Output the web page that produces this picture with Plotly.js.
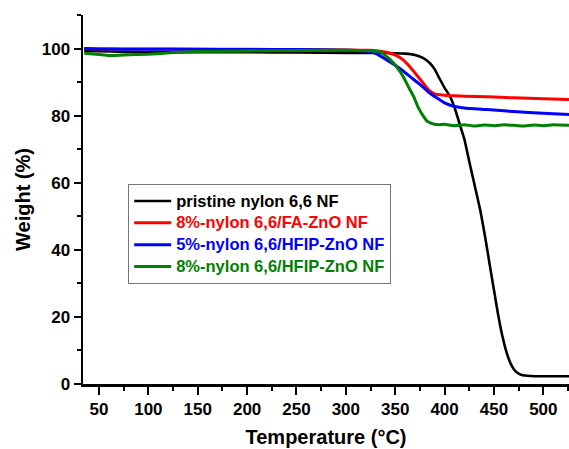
<!DOCTYPE html>
<html>
<head>
<meta charset="utf-8">
<script src="https://cdn.plot.ly/plotly-3.0.1.min.js"></script>
<style>html,body{margin:0;padding:0;background:#fff;}#chart{width:569px;height:449px;}</style>
</head>
<body>
<div id="chart"></div>
<script>
const seriesNames = ["pristine nylon 6,6 NF", "8%-nylon 6,6/FA-ZnO NF", "5%-nylon 6,6/HFIP-ZnO NF", "8%-nylon 6,6/HFIP-ZnO NF"];
const seriesColors = ["#000000", "#ff0000", "#0000ff", "#008000"];

const tempPristine = [35,50,75,100,150,200,250,300,330,350,360,370,378,385,390,395,400,405,410,416,420,426,431,436,441,446,450,454,458,463,467,470,473,478,487,500,527];
const wPristine    = [99.3,99.2,99.0,98.9,98.9,98.9,98.8,98.7,98.7,98.6,98.5,98.1,97.2,95.7,93.8,91.0,88.3,86.0,82.5,76.8,73.0,65.0,58.5,52.0,44.0,35.0,28.0,21.0,15.0,9.2,6.0,4.5,3.5,2.7,2.4,2.3,2.3];

const tempFA = [35,50,75,100,150,200,250,300,325,335,345,352,358,365,372,378,384,390,395,402,410,420,443,470,500,527];
const wFA    = [100,99.9,99.9,99.9,99.8,99.8,99.7,99.6,99.5,99.2,98.6,97.8,96.6,94.5,92.0,89.8,87.6,86.5,86.2,86.0,85.9,85.8,85.6,85.3,85.0,84.8];

const tempHFIP5 = [35,50,75,100,150,200,250,300,320,330,341,350,358,366,375,383,392,400,409,420,443,470,500,527];
const wHFIP5    = [100,99.9,99.8,99.8,99.8,99.7,99.7,99.5,99.3,98.6,96.7,95.0,93.3,91.4,89.3,87.2,85.3,83.8,82.8,82.3,81.8,81.2,80.7,80.3];

const tempHFIP8 = [35,50,60,75,100,125,150,200,250,300,320,335,345,352,358,363,368.5,373,378.6,383,388.7,395,400,410,420,430,440,450,460,470,480,490,500,510,527];
const wHFIP8    = [98.6,98.2,97.9,98.1,98.3,98.8,99.1,99.3,99.4,99.5,99.4,99.0,96.7,94.3,91.7,88.8,85.8,82.6,79.8,78.2,77.5,77.3,77.4,77.0,77.3,76.9,77.2,77.0,77.3,77.1,76.9,77.2,77.0,77.3,77.1];

const xs = [tempPristine, tempFA, tempHFIP5, tempHFIP8];
const ys = [wPristine, wFA, wHFIP5, wHFIP8];
const widths = [2.6, 3, 3, 3];

const traces = xs.map((x, i) => ({
  x: x, y: ys[i], type: 'scatter', mode: 'lines',
  line: {color: seriesColors[i], width: widths[i], shape: 'spline', smoothing: 0.4},
  name: '<span style="color:' + seriesColors[i] + ';font-size:16.5px">' + seriesNames[i] + '</span>'
}));

const font = 'Liberation Sans, Arial, sans-serif';
const layout = {
  width: 569, height: 449,
  margin: {l: 83, r: 0, t: 15, b: 65},
  paper_bgcolor: '#fff', plot_bgcolor: '#fff',
  showlegend: true,
  legend: {
    x: 0.093, y: 0.542, xanchor: 'left', yanchor: 'top',
    bordercolor: '#777', borderwidth: 1, bgcolor: '#fff',
    font: {family: font, size: 14.5, weight: 'bold', color: '#000'},
    itemwidth: 37, tracegroupgap: 0
  },
  xaxis: {
    range: [33.8, 526], showgrid: false, zeroline: false,
    showline: true, linecolor: '#000', linewidth: 2.5, mirror: false,
    tick0: 0, dtick: 50, ticks: 'outside', ticklen: 8, tickwidth: 2, tickcolor: '#000',
    minor: {dtick: 25, ticks: 'outside', ticklen: 4, tickwidth: 2, tickcolor: '#000'},
    tickfont: {family: font, size: 17, weight: 'bold', color: '#000'},
    title: {text: 'Temperature (°C)', font: {family: font, size: 20, weight: 'bold', color: '#000'}, standoff: 12}
  },
  yaxis: {
    range: [0, 110], showgrid: false, zeroline: false,
    showline: true, linecolor: '#000', linewidth: 2.5, mirror: false,
    tick0: 0, dtick: 20, ticks: 'outside', ticklen: 7, tickwidth: 2, tickcolor: '#000',
    minor: {dtick: 10, ticks: 'outside', ticklen: 4, tickwidth: 2, tickcolor: '#000'},
    tickfont: {family: font, size: 17, weight: 'bold', color: '#000'},
    title: {text: 'Weight (%)', font: {family: font, size: 20, weight: 'bold', color: '#000'}, standoff: 6}
  }
};

Plotly.newPlot('chart', traces, layout, {staticPlot: true, displayModeBar: false});
</script>
</body>
</html>
